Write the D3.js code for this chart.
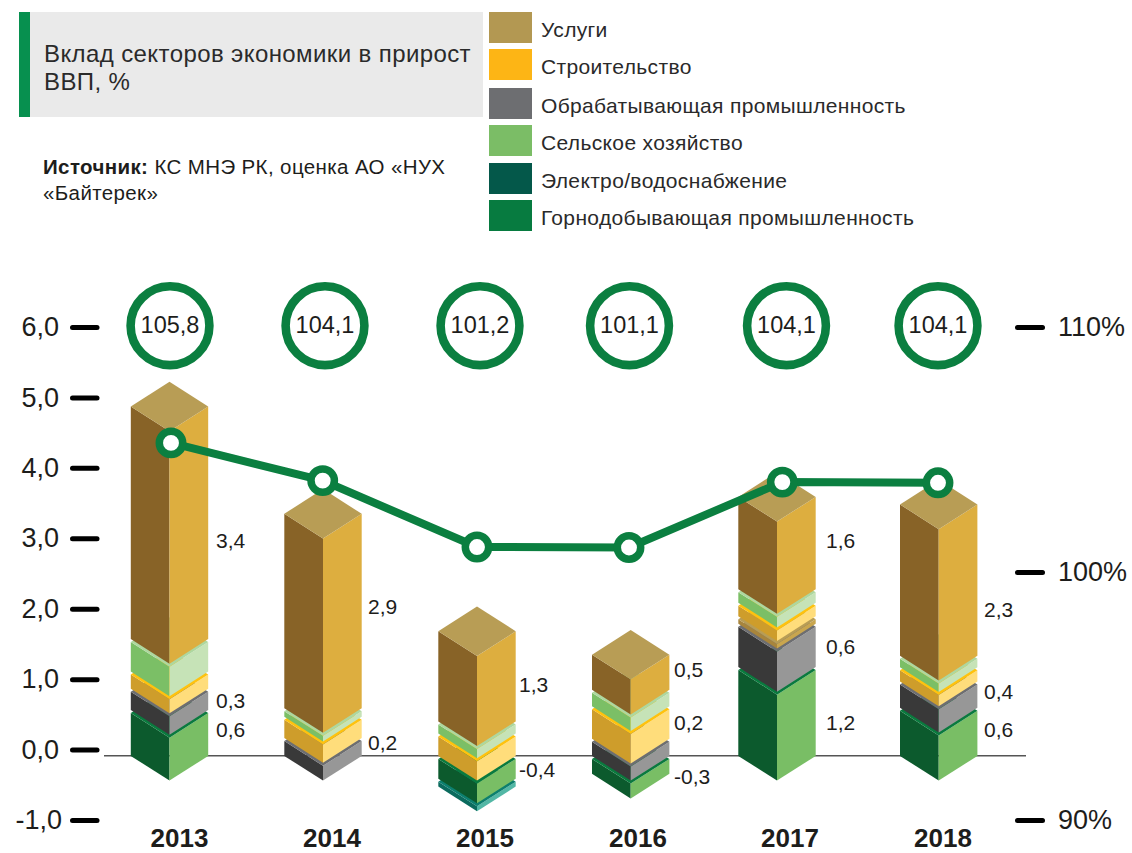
<!DOCTYPE html>
<html lang="ru">
<head>
<meta charset="utf-8">
<script src="https://cdn.jsdelivr.net/npm/d3@7"></script>
<style>
html,body{margin:0;padding:0;background:#fff}
svg{display:block}
text{font-family:"Liberation Sans",Arial,sans-serif;fill:#1d1d1b}
</style>
</head>
<body>
<svg id="c" width="1132" height="853"></svg>
<script>
// ---- data ----
const years = ["2013","2014","2015","2016","2017","2018"];
const mining       = [0.61, 0,    -0.28, -0.21, 1.22,  0.64];
const electricity  = [0,    0,    -0.07, 0,     0,     0];
const manufacturing= [0.26, 0.21, 0,     0.20,  0.57,  0.33];
const otherLayer   = [0,    0,    0,     0,     0.065, 0];
const construction = [0.20, 0.26, 0.275, 0.42,  0.15,  0.16];
const agriculture  = [0.42, 0.08, 0.13,  0.19,  0.15,  0.12];
const services     = [3.30, 2.76, 1.28,  0.50,  1.31,  2.15];

const gdpIndexLabels = ["105,8","104,1","101,2","101,1","104,1","104,1"];
const gdpLine = [105.27, 103.73, 101.02, 101.0, 103.67, 103.64];

const barTexts  = [["3,4","0,3","0,6"],["2,9","0,2"],["1,3","-0,4"],["0,5","0,2","-0,3"],["1,6","0,6","1,2"],["2,3","0,4","0,6"]];
const barLevels = [[2.96,0.70,0.28],[2.03,0.10],[0.92,-0.28],[1.13,0.38,-0.39],[2.96,1.46,0.38],[1.98,0.82,0.28]];

const leftTicks = [-1,0,1,2,3,4,5,6];
const rightTicks = [90,100,110];

const legendLabels = ["Услуги","Строительство","Обрабатывающая промышленность","Сельское хозяйство","Электро/водоснабжение","Горнодобывающая промышленность"];
const legendColors = ["#B39852","#FDB515","#6D6E71","#7BBD66","#04584A","#077B40"];

// ---- layout & style ----
const svg = d3.select("#c");
const seriesKeys = ["mining","electricity","manufacturing","otherLayer","construction","agriculture","services"];
const seriesVals = {mining,electricity,manufacturing,otherLayer,construction,agriculture,services};
const faces = {
  services:     {l:"#886327",r:"#DDAE3F",t:"#B89D55"},
  otherLayer:   {l:"#A8853C",r:"#C9A64E",t:"#B89D55"},
  agriculture:  {l:"#7BBF66",r:"#C6E3B7",t:"#AED79F"},
  construction: {l:"#CE9D2B",r:"#FFDD7B",t:"#FFC20E"},
  manufacturing:{l:"#393939",r:"#979797",t:"#6D6E71"},
  electricity:  {l:"#0B6B5E",r:"#52B7A5",t:"#0C7F6E"},
  mining:       {l:"#0C5A2D",r:"#79BE65",t:"#0A7A3E"}
};
const green = "#0B7F40";

const y = d3.scaleLinear().domain([-1,6]).range([820,327]);
const yr = d3.scaleLinear().domain([90,100,110]).range([820,572,327]);
const barX = d3.scaleOrdinal(years,[169.5,323,477,630.7,777,938.7]);
const ringX = d3.scaleOrdinal(years,[170,325,480,629.5,786.5,938]);
const pointX = d3.scaleOrdinal(years,[171,322.7,477,629,782.3,938]);
const yearX = d3.scaleOrdinal(years,[179.5,332,485,638,790,943]);
const labelX = d3.scaleOrdinal(years,[216,368,519,674,826,984]);

const halfW = 38.7, depth = 24.7, gap = 3, baseLevel = -0.09;

// header
svg.append("rect").attr("x",19).attr("y",12).attr("width",464).attr("height",105).attr("fill","#EAEAEA");
svg.append("rect").attr("x",19).attr("y",12).attr("width",11).attr("height",105).attr("fill","#07904F");
svg.selectAll("text.title").data(["Вклад секторов экономики в прирост","ВВП, %"]).join("text")
  .attr("class","title").attr("x",44).attr("y",(d,i)=>62+i*28).attr("font-size",24)
  .attr("letter-spacing",0.4).style("fill","#2a2a2a").text(d=>d);
const src = svg.append("text").attr("x",43).attr("y",174).attr("font-size",20.5).attr("letter-spacing",0.38);
src.append("tspan").attr("font-weight","bold").text("Источник:");
src.append("tspan").text(" КС МНЭ РК, оценка АО «НУХ");
svg.append("text").attr("x",43).attr("y",200).attr("font-size",20.5).attr("letter-spacing",0.38).text("«Байтерек»");

// legend
const legendY = [12,49,88,125,163,200];
const lg = svg.selectAll("g.lg").data(legendLabels).join("g").attr("class","lg")
  .attr("transform",(d,i)=>`translate(489,${legendY[i]})`);
lg.append("rect").attr("width",43).attr("height",31).attr("fill",(d,i)=>legendColors[i]);
lg.append("text").attr("x",52).attr("y",25).attr("font-size",21).attr("letter-spacing",0.35).style("fill","#2a2a2a").text(d=>d);

// zero line
svg.append("line").attr("x1",104).attr("x2",1026).attr("y1",755.7).attr("y2",755.7)
  .attr("stroke","#555").attr("stroke-width",1.5);

// axes
const ax = svg.append("g").attr("transform","translate(97,0)")
  .call(d3.axisLeft(y).tickValues(leftTicks).tickSize(24.5).tickPadding(13.5)
    .tickFormat(d=>d3.format(".1f")(d).replace(".",",").replace("−","-")));
const ar = svg.append("g").attr("transform","translate(1017.5,0)")
  .call(d3.axisRight(yr).tickValues(rightTicks).tickSize(25).tickPadding(15.5).tickFormat(d=>d+"%"));
[ax,ar].forEach(a=>{
  a.select(".domain").remove();
  a.selectAll("line").attr("stroke","#000").attr("stroke-width",5).attr("stroke-linecap","round");
  a.selectAll("text").attr("font-size",27).attr("font-family","Liberation Sans").style("fill","#1d1d1b");
});
ax.selectAll("g.tick").filter(d=>d===-1).select("text").attr("dx",3);

// stacked isometric bars
const rows = years.map((yr_,i)=>{const o={year:yr_};seriesKeys.forEach(k=>o[k]=seriesVals[k][i]);return o;});
const stacked = d3.stack().keys(seriesKeys).offset(d3.stackOffsetDiverging)(rows);
const unit = y(0)-y(1), base = y(baseLevel);

years.forEach((yrName,i)=>{
  let up=0, down=1;
  const segs=[];
  stacked.forEach(s=>{
    const [a,b]=s[i];
    if(a===b) return;
    const neg = seriesVals[s.key][i]<0;
    const shift = neg ? gap*down++ : -gap*up++;
    segs.push({key:s.key, bottom:base-Math.min(a,b)*unit+shift, top:base-Math.max(a,b)*unit+shift});
  });
  segs.sort((p,q)=>q.bottom-p.bottom);
  const cx=barX(yrName), g=svg.append("g");
  segs.forEach(s=>{
    const c=faces[s.key], L=cx-halfW, R=cx+halfW;
    const poly=(pts,f)=>g.append("polygon").attr("points",pts.map(p=>p.join(",")).join(" ")).attr("fill",f);
    poly([[L,s.top],[cx,s.top+depth],[cx,s.bottom+depth],[L,s.bottom]],c.l);
    poly([[R,s.top],[cx,s.top+depth],[cx,s.bottom+depth],[R,s.bottom]],c.r);
    poly([[L,s.top],[cx,s.top-depth],[R,s.top],[cx,s.top+depth]],c.t);
  });
});

// value labels
years.forEach((yrName,i)=>{
  svg.selectAll(null).data(barTexts[i]).join("text")
    .attr("x",labelX(yrName)).attr("y",(d,j)=>y(barLevels[i][j])).attr("dy","0.35em")
    .attr("font-size",21).text(d=>d);
});

// line & markers
const line = d3.line().x((d,i)=>pointX(years[i])).y(d=>yr(d));
svg.append("path").attr("d",line(gdpLine)).attr("fill","none").attr("stroke",green).attr("stroke-width",8);
svg.selectAll("circle.pt").data(gdpLine).join("circle").attr("class","pt")
  .attr("cx",(d,i)=>pointX(years[i])).attr("cy",d=>yr(d)).attr("r",11.7)
  .attr("fill","#fff").attr("stroke",green).attr("stroke-width",7.5);

// rings
const ring = svg.selectAll("g.ring").data(gdpIndexLabels).join("g").attr("class","ring")
  .attr("transform",(d,i)=>`translate(${ringX(years[i])},325.7)`);
ring.append("circle").attr("r",39.4).attr("fill","#fff").attr("stroke",green).attr("stroke-width",8.6);
ring.append("text").attr("text-anchor","middle").attr("dy","0.33em").attr("font-size",23.5).text(d=>d);

// year labels
svg.selectAll("text.year").data(years).join("text").attr("class","year")
  .attr("x",d=>yearX(d)).attr("y",847.4).attr("text-anchor","middle")
  .attr("font-size",26).attr("font-weight","bold").text(d=>d);
</script>
</body>
</html>
